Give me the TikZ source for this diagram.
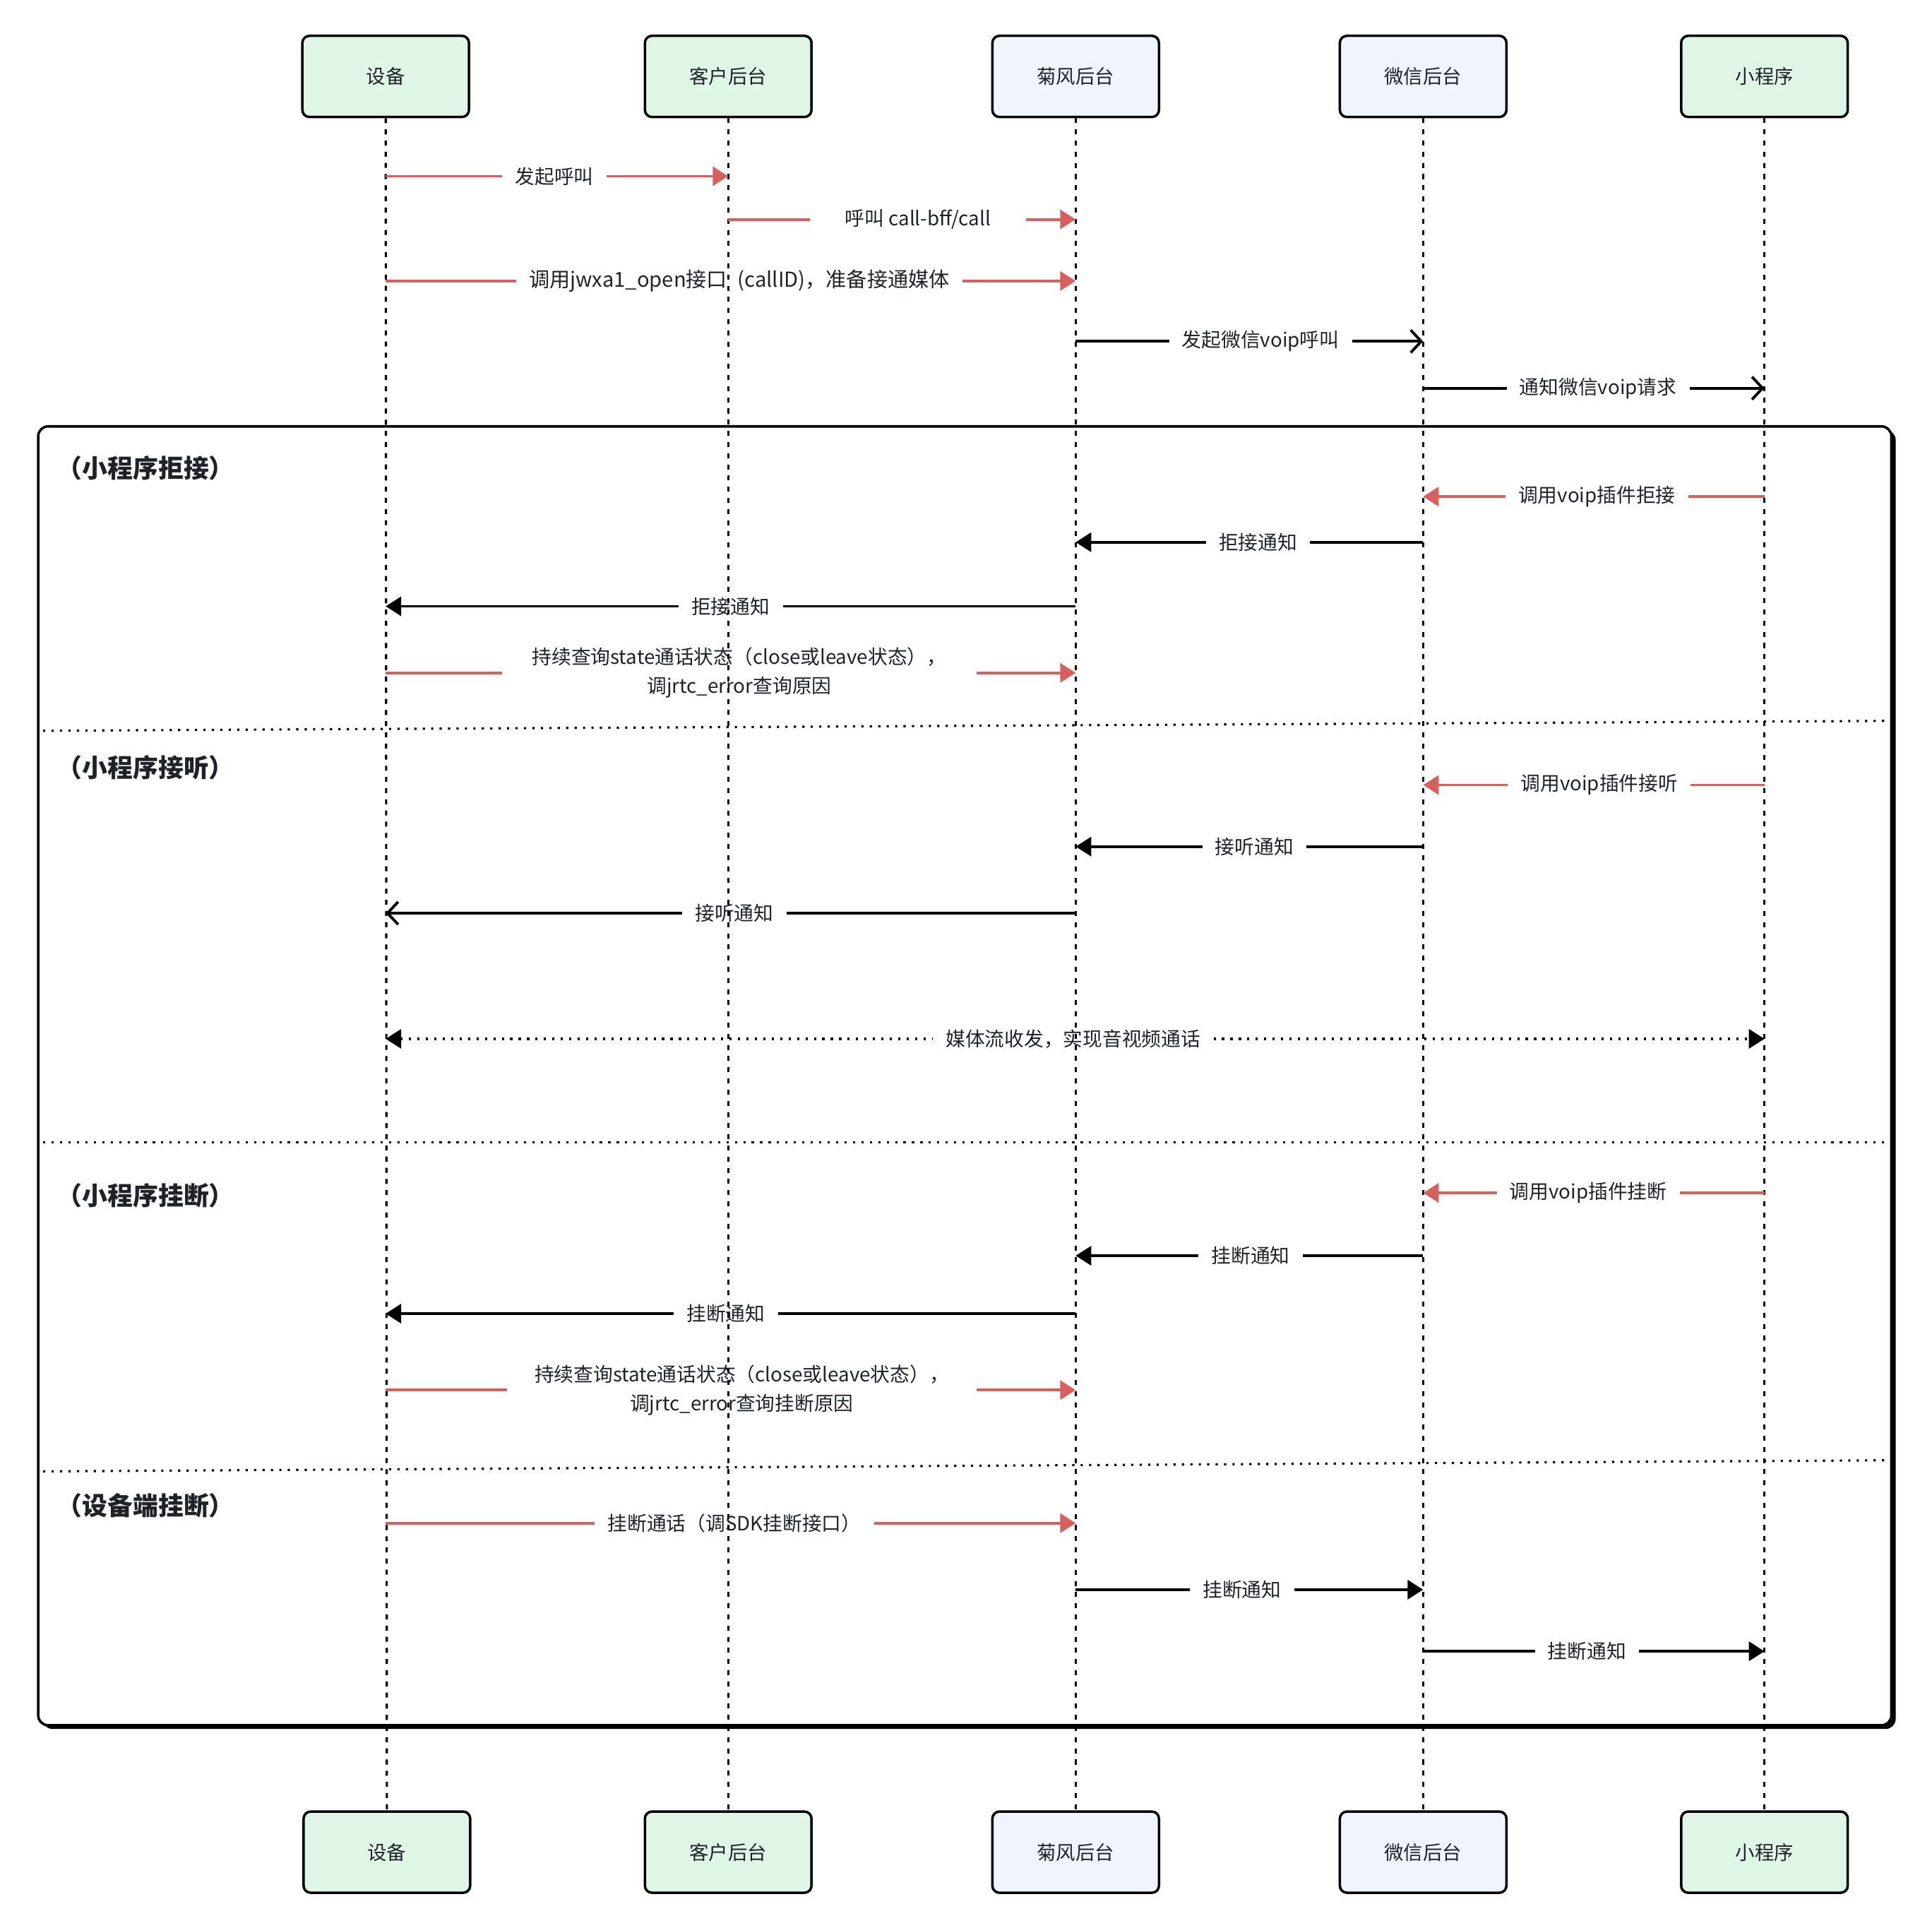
\documentclass[tikz,border=0pt]{standalone}
\usepackage{fontspec}
\setmainfont{Noto Sans CJK SC}
\usetikzlibrary{arrows.meta}
\definecolor{msgred}{HTML}{D8605C}
\definecolor{boxgreen}{HTML}{DFF5E5}
\definecolor{boxblue}{HTML}{F0F4FC}
\definecolor{txt}{HTML}{1F2329}
\tikzset{
	actor/.style={draw, line width=1pt, rounded corners=0.1cm, minimum width=2.36cm, minimum height=1.15cm, text=txt, font=\fontsize{7.8pt}{9pt}\selectfont},
	actorg/.style={actor, fill=boxgreen},
	actorb/.style={actor, fill=boxblue},
	lifeline/.style={line width=0.9pt, dash pattern=on 2pt off 2.5pt},
	divider/.style={line width=0.9pt, dash pattern=on 0.9pt off 2.5pt},
	section/.style={anchor=west, inner sep=0pt, text=txt, font=\fontsize{10.2pt}{12pt}\selectfont\bfseries},
	msglbl/.style={inner xsep=5pt, inner ysep=1pt, text=txt, align=center, font=\fontsize{7.9pt}{11.7pt}\selectfont},
	redmsg/.style={draw=msgred, line width=1.1pt},
	blkmsg/.style={draw=black, line width=1.1pt},
	filltip/.style={-{Triangle[length=0.22cm, width=0.27cm]}},
	opentip/.style={-{Straight Barb[length=0.15cm, width=0.32cm]}},
}

\begin{document}
\begin{tikzpicture}[x=0.017449cm, y=-0.017449cm]
	%%%%% START %%%%%
	\useasboundingbox (0, 0) rectangle (1568, 1564.5);
	
	% frame with shadow
	\fill[black, rounded corners=0.14cm] (34.5, 349) rectangle (1538.5, 1403);
	\draw[line width=1pt, fill=white, rounded corners=0.14cm] (31, 346) rectangle (1535, 1400);
	
	% participants
	\node[actorg] (dev) at (313, 62) {设备};
	\node[actorg] (cust) at (591, 62) {客户后台};
	\node[actorb] (jf) at (873, 62) {菊风后台};
	\node[actorb] (wx) at (1155, 62) {微信后台};
	\node[actorg] (mp) at (1432, 62) {小程序};
	
	\node[actorg] (devB) at (314, 1503) {设备};
	\node[actorg] (custB) at (591, 1503) {客户后台};
	\node[actorb] (jfB) at (873, 1503) {菊风后台};
	\node[actorb] (wxB) at (1155, 1503) {微信后台};
	\node[actorg] (mpB) at (1432, 1503) {小程序};
	
	\draw[lifeline] (dev) -- (devB);
	\draw[lifeline] (cust) -- (custB);
	\draw[lifeline] (jf) -- (jfB);
	\draw[lifeline] (wx) -- (wxB);
	\draw[lifeline] (mp) -- (mpB);
	
	% sections
	\draw[divider] (35, 593) -- (1530, 585);
	\draw[divider] (35, 927) -- (1530, 927);
	\draw[divider] (35, 1194) -- (1530, 1185);
	
	\node[section] (secReject) at (46, 380) {（小程序拒接）};
	\node[section] (secAnswer) at (46, 623) {（小程序接听）};
	\node[section] (secHangMp) at (46, 970) {（小程序挂断）};
	\node[section] (secHangDev) at (46, 1222) {（设备端挂断）};
	
	% call setup
	\node[msglbl] (m1) at (450, 143) {发起呼叫};
	\draw[redmsg] (dev |- m1) -- (m1.west);
	\draw[redmsg, filltip, msgred] (m1.east) -- (cust |- m1);
	
	\node[msglbl, inner xsep=14pt] (m2) at (745, 178) {呼叫 call-bff/call};
	\draw[redmsg] (cust |- m2) -- (m2.west);
	\draw[redmsg, filltip, msgred] (m2.east) -- (jf |- m2);
	
	\node[msglbl, font=\fontsize{8.3pt}{10pt}\selectfont] (m3) at (600, 228) {调用jwxa1\_open接口\enspace(callID)，准备接通媒体};
	\draw[redmsg] (dev |- m3) -- (m3.west);
	\draw[redmsg, filltip, msgred] (m3.east) -- (jf |- m3);
	
	\node[msglbl] (m4) at (1023, 277) {发起微信voip呼叫};
	\draw[blkmsg] (jf |- m4) -- (m4.west);
	\draw[blkmsg, opentip] (m4.east) -- (wx |- m4);
	
	\node[msglbl] (m5) at (1297, 315) {通知微信voip请求};
	\draw[blkmsg] (wx |- m5) -- (m5.west);
	\draw[blkmsg, opentip] (m5.east) -- (mp |- m5);
	
	% mini program rejects
	\node[msglbl] (m6) at (1296, 403) {调用voip插件拒接};
	\draw[redmsg] (mp |- m6) -- (m6.east);
	\draw[redmsg, filltip, msgred] (m6.west) -- (wx |- m6);
	
	\node[msglbl] (m7) at (1021, 440) {拒接通知};
	\draw[blkmsg] (wx |- m7) -- (m7.east);
	\draw[blkmsg, filltip] (m7.west) -- (jf |- m7);
	
	\node[msglbl] (m8) at (593, 492) {拒接通知};
	\draw[blkmsg] (jf |- m8) -- (m8.east);
	\draw[blkmsg, filltip] (m8.west) -- (dev |- m8);
	
	\node[msglbl, inner xsep=12pt] (m9) at (600, 546) {持续查询state通话状态（close或leave状态），\\调jrtc\_error查询原因};
	\draw[redmsg] (dev |- m9) -- (m9.west);
	\draw[redmsg, filltip, msgred] (m9.east) -- (jf |- m9);
	
	% mini program answers
	\node[msglbl] (m10) at (1298, 637) {调用voip插件接听};
	\draw[redmsg] (mp |- m10) -- (m10.east);
	\draw[redmsg, filltip, msgred] (m10.west) -- (wx |- m10);
	
	\node[msglbl] (m11) at (1018, 687) {接听通知};
	\draw[blkmsg] (wx |- m11) -- (m11.east);
	\draw[blkmsg, filltip] (m11.west) -- (jf |- m11);
	
	\node[msglbl] (m12) at (596, 741) {接听通知};
	\draw[blkmsg] (jf |- m12) -- (m12.east);
	\draw[blkmsg, opentip] (m12.west) -- (dev |- m12);
	
	\node[msglbl] (m13) at (871, 843) {媒体流收发，实现音视频通话};
	\draw[blkmsg, divider, line width=1.1pt, {Triangle[length=0.22cm, width=0.27cm]}-] (dev |- m13) -- (m13.west);
	\draw[blkmsg, divider, line width=1.1pt, filltip] (m13.east) -- (mp |- m13);
	
	% mini program hangs up
	\node[msglbl] (m14) at (1289, 968) {调用voip插件挂断};
	\draw[redmsg] (mp |- m14) -- (m14.east);
	\draw[redmsg, filltip, msgred] (m14.west) -- (wx |- m14);
	
	\node[msglbl] (m15) at (1015, 1019) {挂断通知};
	\draw[blkmsg] (wx |- m15) -- (m15.east);
	\draw[blkmsg, filltip] (m15.west) -- (jf |- m15);
	
	\node[msglbl] (m16) at (589, 1066) {挂断通知};
	\draw[blkmsg] (jf |- m16) -- (m16.east);
	\draw[blkmsg, filltip] (m16.west) -- (dev |- m16);
	
	\node[msglbl, inner xsep=11pt] (m17) at (602, 1128) {持续查询state通话状态（close或leave状态），\\调jrtc\_error查询挂断原因};
	\draw[redmsg] (dev |- m17) -- (m17.west);
	\draw[redmsg, filltip, msgred] (m17.east) -- (jf |- m17);
	
	% device hangs up
	\node[msglbl] (m18) at (596, 1236) {挂断通话（调SDK挂断接口）};
	\draw[redmsg] (dev |- m18) -- (m18.west);
	\draw[redmsg, filltip, msgred] (m18.east) -- (jf |- m18);
	
	\node[msglbl] (m19) at (1008, 1290) {挂断通知};
	\draw[blkmsg] (jf |- m19) -- (m19.west);
	\draw[blkmsg, filltip] (m19.east) -- (wx |- m19);
	
	\node[msglbl] (m20) at (1288, 1340) {挂断通知};
	\draw[blkmsg] (wx |- m20) -- (m20.west);
	\draw[blkmsg, filltip] (m20.east) -- (mp |- m20);
	
	%%%%% END %%%%%
\end{tikzpicture}
\end{document}
